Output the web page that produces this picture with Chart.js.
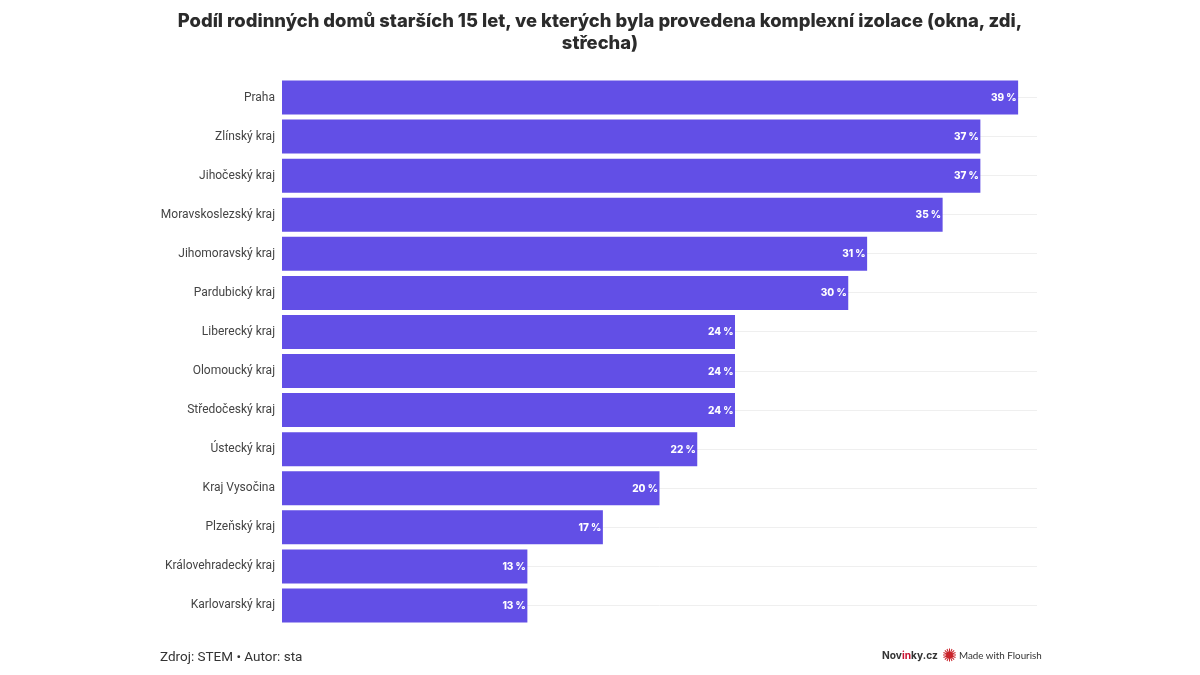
<!DOCTYPE html>
<html lang="cs">
<head>
<meta charset="utf-8">
<title>Podíl rodinných domů</title>
<script src="https://cdn.jsdelivr.net/npm/chart.js@4"></script>
<style>
  html, body { margin: 0; background: #fff; }
  #wrap { position: relative; width: 1200px; height: 675px; overflow: hidden; }
  #heading { position: absolute; left: 0; top: 9px; width: 1200px; margin: 0; text-align: center; font: 800 18.4px/22px Inter, sans-serif; color: #2b2b2b; }
  #source { position: absolute; left: 160px; top: 648px; font: 13.5px Roboto, sans-serif; color: #333; }
  #brand { position: absolute; left: 882px; top: 649px; font: 700 10.2px Inter, sans-serif; color: #333; }
  #brand span { color: #c8102e; }
  #flourish { position: absolute; left: 959px; top: 649px; font: 9.8px Lato, sans-serif; color: #333; }
  #star { position: absolute; left: 943px; top: 648px; }
</style>
</head>
<body>
<div id="wrap">
  <canvas id="chart" width="1200" height="675"></canvas>
  <h1 id="heading"></h1>
  <div id="source">Zdroj: STEM • Autor: sta</div>
  <div id="brand">Nov<span>in</span>ky.cz</div>
  <svg id="star" width="13" height="14" viewBox="-7 -7 14 14">
    <circle r="3.6" fill="#c9242b"/>
    <g stroke="#c9242b" stroke-width="1.1">
      <path d="M0-7V7M-7 0H7M-5-5L5 5M-5 5L5-5M-2.7-6.5L2.7 6.5M2.7-6.5L-2.7 6.5M-6.5-2.7L6.5 2.7M-6.5 2.7L6.5-2.7"/>
    </g>
  </svg>
  <div id="flourish">Made with Flourish</div>
</div>
<script>
const titleLines = [
    'Podíl rodinných domů starších 15 let, ve kterých byla provedena komplexní izolace (okna, zdi,',
    'střecha)'
];
const regions = [
    'Praha', 'Zlínský kraj', 'Jihočeský kraj', 'Moravskoslezský kraj', 'Jihomoravský kraj',
    'Pardubický kraj', 'Liberecký kraj', 'Olomoucký kraj', 'Středočeský kraj', 'Ústecký kraj',
    'Kraj Vysočina', 'Plzeňský kraj', 'Královehradecký kraj', 'Karlovarský kraj'
];
const shares = [39, 37, 37, 35, 31, 30, 24, 24, 24, 22, 20, 17, 13, 13];

document.getElementById('heading').innerHTML = titleLines.join('<br>');

// white value labels inside the bar ends
const valueLabels = {
    id: 'valueLabels',
    afterDatasetsDraw(chart) {
        const ctx = chart.ctx;
        ctx.save();
        ctx.font = '800 10px Inter, sans-serif';
        ctx.fillStyle = '#fff';
        ctx.textAlign = 'right';
        ctx.textBaseline = 'middle';
        chart.getDatasetMeta(0).data.forEach((bar, i) => {
            ctx.fillText(shares[i] + ' %', bar.x - 1.5, bar.y + 0.5);
        });
        ctx.restore();
    }
};

new Chart(document.getElementById('chart'), {
    type: 'bar',
    data: {
        labels: regions,
        datasets: [{
            data: shares,
            backgroundColor: '#624fe6',
            barPercentage: 0.87,
            categoryPercentage: 1
        }]
    },
    options: {
        indexAxis: 'y',
        responsive: false,
        animation: false,
        layout: { padding: { left: 0, right: 163, top: 78, bottom: 50 } },
        plugins: {
            legend: { display: false },
            tooltip: { enabled: false }
        },
        scales: {
            x: {
                min: 0,
                max: 40,
                display: false
            },
            y: {
                afterFit(scale) { scale.width = 282; },
                border: { display: false },
                grid: { color: '#efefef', drawTicks: false, offset: false },
                ticks: {
                    color: '#444',
                    padding: 7,
                    font: { family: 'Roboto, sans-serif', size: 12 }
                }
            }
        }
    },
    plugins: [valueLabels]
});
</script>
</body>
</html>
